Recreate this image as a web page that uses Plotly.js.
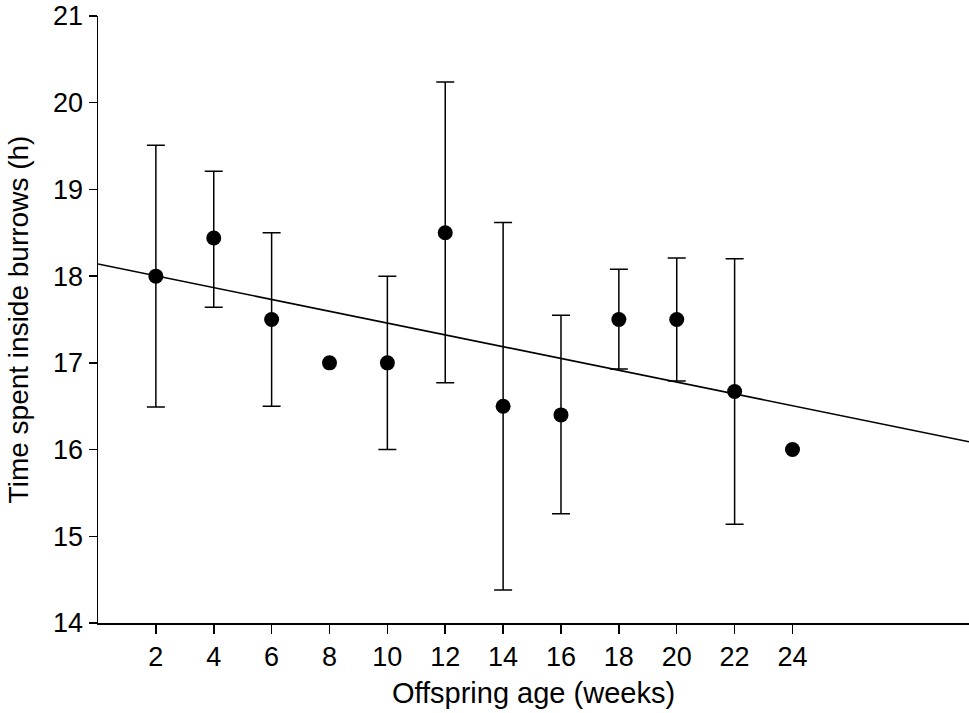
<!DOCTYPE html>
<html>
<head>
<meta charset="utf-8">
<script src="https://cdn.plot.ly/plotly-3.0.1.min.js"></script>
<style>html,body{margin:0;padding:0;background:#fff;}#chart{width:969px;height:713px;}</style>
</head>
<body>
<div id="chart"></div>
<script>
// Offspring age (weeks)
const ages = [2, 4, 6, 8, 10, 12, 14, 16, 18, 20, 22, 24];
// Mean time spent inside burrows (h)
const meanHours = [18.0, 18.44, 17.5, 17.0, 17.0, 18.5, 16.5, 16.4, 17.5, 17.5, 16.67, 16.0];
// Upper and lower ends of error bars (h); null = no bar
const upperHours = [19.51, 19.21, 18.5, null, 18.0, 20.24, 18.62, 17.55, 18.08, 18.21, 18.2, null];
const lowerHours = [16.49, 17.64, 16.5, null, 16.0, 16.77, 14.38, 15.26, 16.93, 16.79, 15.14, null];
// Regression line end points
const fitX = [0, 30.1];
const fitY = [18.14, 16.09];
// Tick labels
const xTicks = [2, 4, 6, 8, 10, 12, 14, 16, 18, 20, 22, 24];
const yTicks = [14, 15, 16, 17, 18, 19, 20, 21];

const errPlus = meanHours.map((m, i) => upperHours[i] === null ? 0 : upperHours[i] - m);
const errMinus = meanHours.map((m, i) => lowerHours[i] === null ? 0 : m - lowerHours[i]);
const hasBar = upperHours.map(v => v !== null);

const font = {family: 'Liberation Sans, Arial, Helvetica, sans-serif', color: '#000'};

const traces = [
  {
    x: fitX, y: fitY, mode: 'lines', type: 'scatter',
    line: {color: '#000', width: 1.6}, hoverinfo: 'skip', showlegend: false
  },
  {
    x: ages.filter((a, i) => hasBar[i]),
    y: meanHours.filter((a, i) => hasBar[i]),
    mode: 'markers', type: 'scatter',
    marker: {color: '#000', size: 15},
    error_y: {
      type: 'data', symmetric: false,
      array: errPlus.filter((a, i) => hasBar[i]),
      arrayminus: errMinus.filter((a, i) => hasBar[i]),
      color: '#000', thickness: 1.5, width: 9
    },
    showlegend: false
  },
  {
    x: ages.filter((a, i) => !hasBar[i]),
    y: meanHours.filter((a, i) => !hasBar[i]),
    mode: 'markers', type: 'scatter',
    marker: {color: '#000', size: 15},
    showlegend: false
  }
];

const layout = {
  width: 969, height: 713,
  margin: {l: 98, r: 0, t: 16, b: 90},
  paper_bgcolor: '#fff', plot_bgcolor: '#fff',
  font: Object.assign({size: 27}, font),
  xaxis: {
    range: [0, 30.1], tickvals: xTicks, ticktext: xTicks.map(String),
    showline: true, linecolor: '#000', linewidth: 1.5,
    ticks: 'outside', ticklen: 9, tickwidth: 1.5, tickcolor: '#000',
    showgrid: false, zeroline: false,
    tickfont: Object.assign({size: 27}, font),
    title: {text: 'Offspring age (weeks)', font: Object.assign({size: 29}, font), standoff: 12}
  },
  yaxis: {
    range: [14, 21], tickvals: yTicks, ticktext: yTicks.map(String),
    showline: true, linecolor: '#000', linewidth: 1.5,
    ticks: 'outside', ticklen: 8, tickwidth: 1.5, tickcolor: '#000',
    showgrid: false, zeroline: false,
    tickfont: Object.assign({size: 27}, font),
    title: {text: 'Time spent inside burrows (h)', font: Object.assign({size: 28}, font), standoff: 16}
  }
};

Plotly.newPlot('chart', traces, layout, {displayModeBar: false, staticPlot: true});
</script>
</body>
</html>
